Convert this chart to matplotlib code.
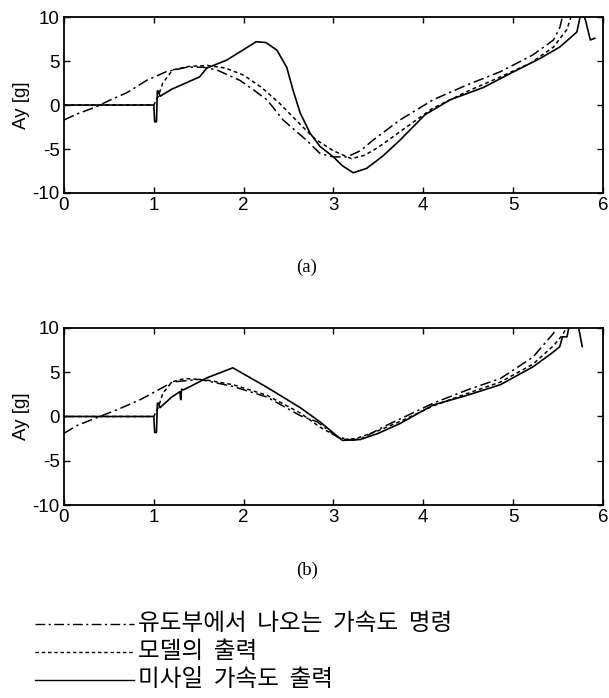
import matplotlib
matplotlib.use("Agg")
import matplotlib.pyplot as plt

plt.rcParams['font.family'] = ['Liberation Sans', 'DejaVu Sans']
plt.rcParams['axes.unicode_minus'] = False

# ---- panel (a) data ----
a_cmd_t = [0.0, 0.15, 0.36, 0.5, 0.7, 0.92, 1.14, 1.37, 1.55, 1.7, 1.96, 2.1, 2.26, 2.44, 2.7, 2.85, 3.0, 3.15, 3.3,
           3.44, 3.74, 4.11, 4.49, 4.86, 5.22, 5.45, 5.52, 5.56]
a_cmd_y = [-1.7, -1.0, -0.2, 0.5, 1.4, 2.8, 3.8, 4.3, 4.3, 4.0, 2.8, 1.8, 0.6, -1.7, -4.0, -5.5, -5.9, -5.9, -5.2,
           -4.0, -1.7, 0.6, 2.3, 3.8, 5.7, 7.4, 8.8, 10.5]

a_mod_t = [0.0, 1.0, 1.05, 1.1, 1.21, 1.4, 1.6, 1.8, 2.0, 2.2, 2.4, 2.63, 2.8, 3.0, 3.2, 3.35, 3.5, 3.8, 4.1, 4.5,
           4.86, 5.2, 5.45, 5.6, 5.66]
a_mod_y = [0.0, 0.0, 1.0, 2.5, 4.0, 4.4, 4.5, 4.2, 3.4, 2.0, 0.2, -2.2, -3.9, -5.2, -6.1, -5.7, -4.8, -2.6, -0.4, 1.6,
           3.2, 4.8, 6.6, 8.6, 10.5]

a_mis_t = [0.0, 1.0, 1.01, 1.03, 1.04, 1.05, 1.07, 1.2, 1.51, 1.59, 1.81, 2.0, 2.14, 2.25, 2.37, 2.48, 2.55, 2.63,
           2.74, 2.85, 3.0, 3.1, 3.22, 3.37, 3.55, 3.74, 4.02, 4.3, 4.67, 5.0, 5.3, 5.52, 5.71, 5.75, 5.78, 5.81,
           5.86, 5.91]
a_mis_y = [0.0, 0.0, -1.9, -1.9, 1.6, 1.6, 1.0, 1.8, 3.2, 4.2, 5.1, 6.3, 7.2, 7.1, 6.25, 4.3, 1.7, -0.9,
           -3.2, -4.7, -5.9, -6.9, -7.7, -7.2, -5.8, -4.0, -1.1, 0.6, 2.0, 3.75, 5.3, 6.6, 8.3, 10.2, 10.5, 9.5,
           7.4, 7.6]

# ---- panel (b) data ----
b_cmd_t = [0.0, 0.15, 0.4, 0.6, 0.85, 1.05, 1.21, 1.51, 1.88, 2.26, 2.63, 2.82, 3.04, 3.22, 3.35, 3.55, 3.8,
           4.11, 4.49, 4.86, 5.22, 5.45, 5.49]
b_cmd_y = [-1.9, -1.0, 0.0, 0.8, 1.9, 3.0, 3.9, 4.2, 3.4, 2.2, 0.1, -0.6, -2.3, -2.7, -2.3, -1.2, 0.0,
           1.5, 3.0, 4.3, 6.7, 9.4, 10.5]

b_mod_t = [0.0, 1.0, 1.05, 1.1, 1.2, 1.35, 1.6, 1.88, 2.26, 2.63, 2.85, 3.1, 3.25, 3.5, 3.8, 4.11, 4.49, 4.86,
           5.22, 5.45, 5.55, 5.62]
b_mod_y = [0.0, 0.0, 1.0, 2.6, 3.9, 4.3, 4.1, 3.6, 2.4, 0.4, -1.2, -2.6, -2.5, -1.6, -0.3, 1.2, 2.6, 3.9,
           5.9, 8.0, 9.2, 10.5]

b_mis_t = [0.0, 1.0, 1.01, 1.03, 1.04, 1.05, 1.07, 1.2, 1.29, 1.3, 1.31, 1.33, 1.6, 1.88, 2.26, 2.63, 2.85,
           3.1, 3.3, 3.5, 3.74, 4.11, 4.49, 4.86, 5.22, 5.45, 5.52, 5.55, 5.6, 5.63, 5.7, 5.73, 5.77]
b_mis_y = [0.0, 0.0, -1.8, -1.8, 1.5, 1.5, 1.0, 2.2, 2.8, 1.9, 3.1, 3.0, 4.4, 5.5, 3.3, 1.0, -0.6,
           -2.7, -2.6, -1.9, -0.8, 1.3, 2.4, 3.6, 5.6, 7.3, 7.9, 9.0, 9.0, 10.5, 10.5, 10.0, 7.9]

panels = [
    ([0.105, 0.7235, 0.885, 0.252], (a_cmd_t, a_cmd_y), (a_mod_t, a_mod_y), (a_mis_t, a_mis_y), '(a)', 267),
    ([0.105, 0.2765, 0.885, 0.2536], (b_cmd_t, b_cmd_y), (b_mod_t, b_mod_y), (b_mis_t, b_mis_y), '(b)', 570),
]

labels = ['유도부에서 나오는 가속도 명령', '모델의 출력', '미사일 가속도 출력']
cmd_style = (0, (7, 2.5, 1.5, 2.5))
mod_style = (0, (2.5, 2))

fig = plt.figure(figsize=(6.09, 6.98), dpi=100)

for rect, cmd, mod, mis, cap, cap_y in panels:
    ax = fig.add_axes(rect)
    ax.plot(cmd[0], cmd[1], color='black', lw=1.1, ls=cmd_style)
    ax.plot(mod[0], mod[1], color='black', lw=1.1, ls=mod_style)
    ax.plot(mis[0], mis[1], color='black', lw=1.2, ls='-')
    ax.set_xlim(0, 6)
    ax.set_ylim(-10, 10)
    ax.set_xticks([0, 1, 2, 3, 4, 5, 6])
    ax.set_yticks([-10, -5, 0, 5, 10])
    ax.tick_params(direction='in', top=True, right=True, labelsize=13.5, length=4, width=1, pad=3)
    for s in ax.spines.values():
        s.set_linewidth(1.3)
    ax.set_ylabel('Ay [g]', fontsize=13.5, labelpad=2)
    fig.text(307 / 609, 1 - cap_y / 698, cap, ha='center', va='center', fontsize=13.5,
             family='Liberation Serif')

# legend drawn below the plots
styles = [cmd_style, mod_style, '-']
rows_y = [624, 652, 680]
for lab, st, ry in zip(labels, styles, rows_y):
    yy = 1 - ry / 698
    fig.add_artist(plt.Line2D([35 / 609, 134 / 609], [yy, yy], color='black', lw=1.0, ls=st,
                              transform=fig.transFigure))
    fig.text(138 / 609, yy, lab.replace(' ', '  '), ha='left', va='center', fontsize=17,
             family=['Noto Sans CJK KR', 'DejaVu Sans'])

fig.savefig('out.png', dpi=100)
